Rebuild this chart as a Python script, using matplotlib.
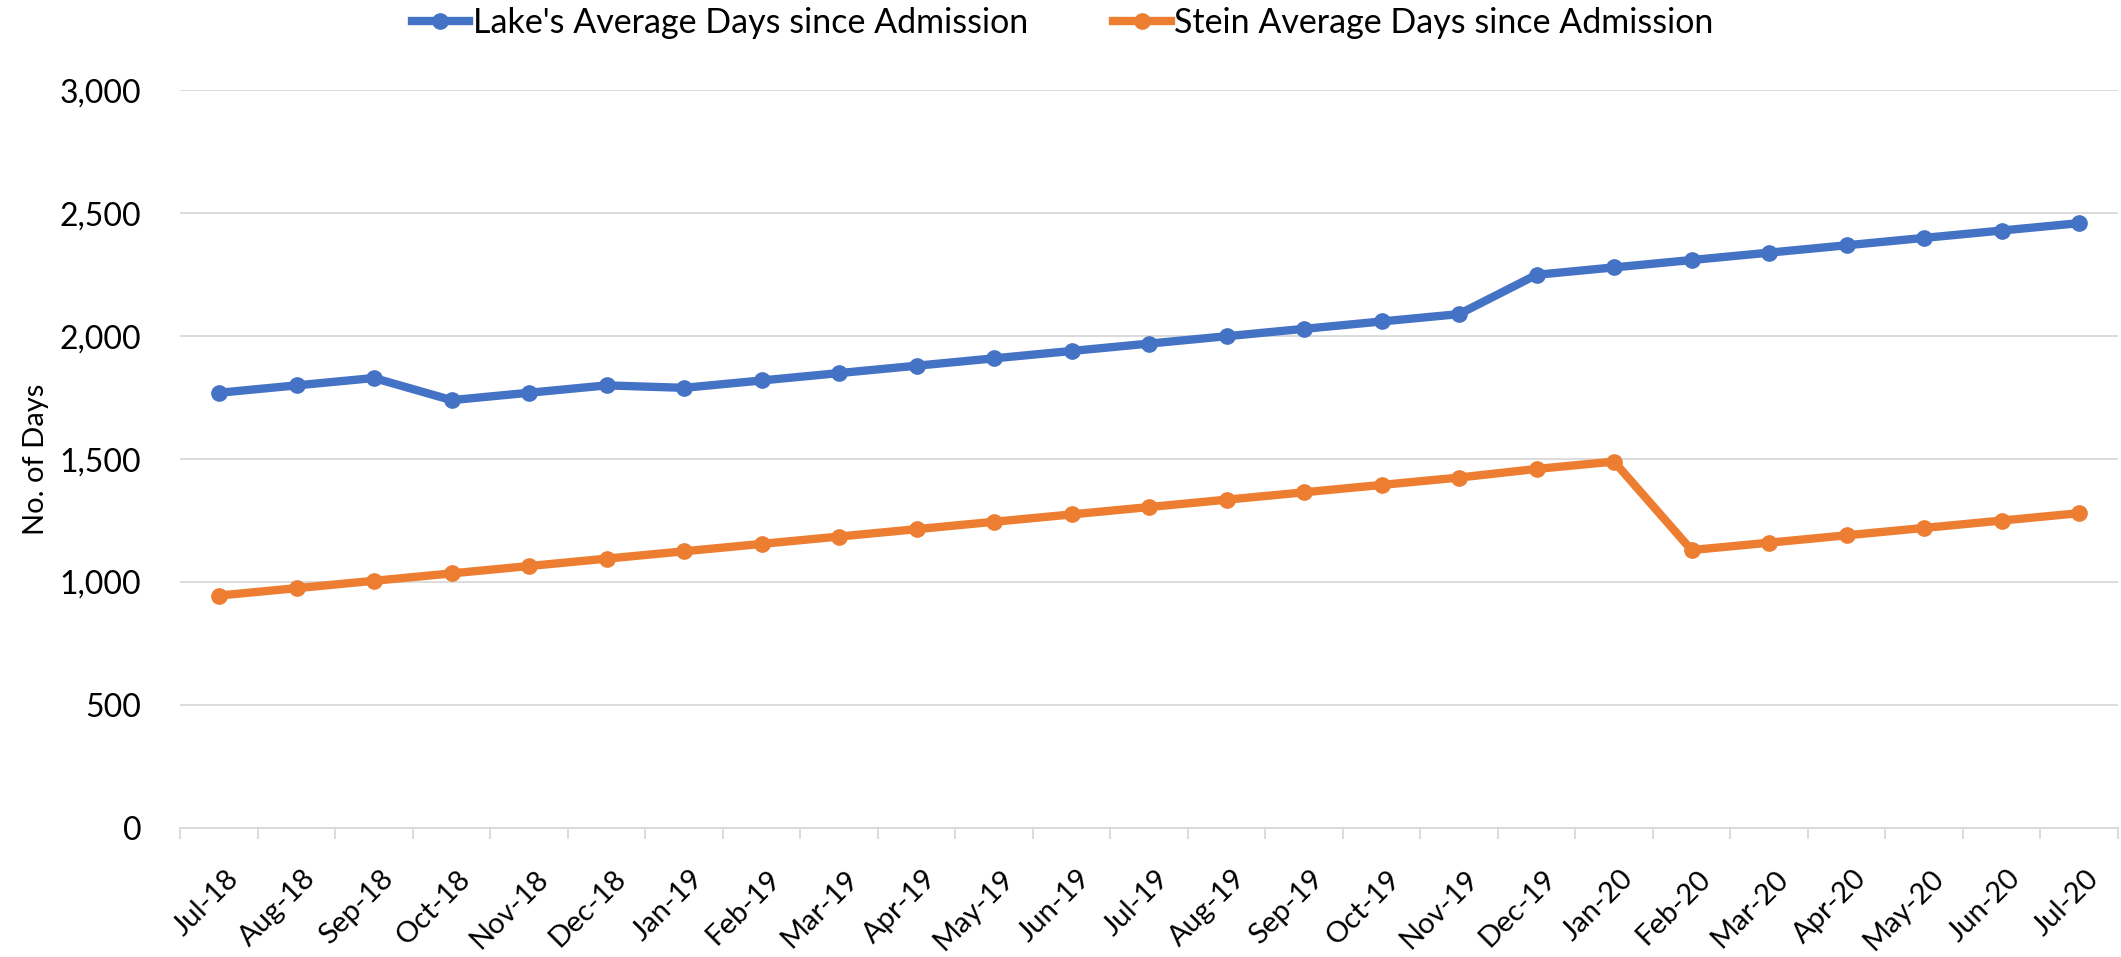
import matplotlib
matplotlib.use('Agg')
import matplotlib.pyplot as plt
from matplotlib.ticker import FuncFormatter, FixedLocator
from matplotlib.transforms import ScaledTranslation

# ─── Data ─────────────────────────────────────────────────────────────────────

months = ['Jul-18', 'Aug-18', 'Sep-18', 'Oct-18', 'Nov-18', 'Dec-18',
          'Jan-19', 'Feb-19', 'Mar-19', 'Apr-19', 'May-19', 'Jun-19',
          'Jul-19', 'Aug-19', 'Sep-19', 'Oct-19', 'Nov-19', 'Dec-19',
          'Jan-20', 'Feb-20', 'Mar-20', 'Apr-20', 'May-20', 'Jun-20',
          'Jul-20']

lake_days = [1770, 1800, 1830, 1740, 1770, 1800, 1790, 1820, 1850, 1880,
             1910, 1940, 1970, 2000, 2030, 2060, 2090, 2250, 2280, 2310,
             2340, 2370, 2400, 2430, 2460]

stein_days = [945, 975, 1005, 1035, 1065, 1095, 1125, 1155, 1185, 1215,
              1245, 1275, 1305, 1335, 1365, 1395, 1425, 1460, 1490, 1130,
              1160, 1190, 1220, 1250, 1280]

y_ticks = [0, 500, 1000, 1500, 2000, 2500, 3000]

BLUE = '#4472C4'
ORANGE = '#ED7D31'
GRID = '#D9D9D9'

plt.rcParams['font.family'] = ['Lato', 'DejaVu Sans']

fig = plt.figure(figsize=(21.21, 9.57), dpi=100, facecolor='white')
ax = fig.add_axes([0.085, 0.135, 0.9135, 0.7705])

x = list(range(len(months)))
l1, = ax.plot(x, lake_days, '-o', color=BLUE, linewidth=6, markersize=11,
              label="Lake's Average Days since Admission")
l2, = ax.plot(x, stein_days, '-o', color=ORANGE, linewidth=6, markersize=11,
              label='Stein Average Days since Admission')

ax.set_xlim(-0.5, len(months) - 0.5)
ax.set_ylim(0, 3000)
ax.set_yticks(y_ticks)
ax.yaxis.set_major_formatter(FuncFormatter(lambda v, p: f'{int(v):,}'))
ax.grid(axis='y', color=GRID, linewidth=1.3)
ax.set_axisbelow(True)

for sp in ['top', 'right', 'left']:
    ax.spines[sp].set_visible(False)
ax.spines['bottom'].set_color(GRID)
ax.spines['bottom'].set_linewidth(1.3)

ax.tick_params(axis='y', length=0, pad=28, labelsize=23)
ax.set_xticks(x)
ax.set_xticklabels(months)
ax.tick_params(axis='x', length=0, pad=27, labelsize=21)
ax.xaxis.set_minor_locator(FixedLocator([i - 0.5 for i in range(len(months) + 1)]))
ax.tick_params(axis='x', which='minor', length=8, width=1.3, color=GRID)

# rotated labels: top-right corner sits just under the category centre
off = ScaledTranslation(0.06, 0, fig.dpi_scale_trans)
for lab in ax.get_xticklabels():
    lab.set_rotation(45)
    lab.set_ha('right')
    lab.set_va('top')
    lab.set_rotation_mode('anchor')
    lab.set_transform(lab.get_transform() + off)

ax.set_ylabel('No. of Days', fontsize=21)
ax.yaxis.set_label_coords(-0.0676, 0.5)

fig.legend(handles=[l1, l2], loc='center', bbox_to_anchor=(0.501, 0.976),
           ncol=2, frameon=False, fontsize=24.5, handlelength=1.7,
           handletextpad=0.1, columnspacing=2.5)

fig.savefig('out.png', dpi=100, facecolor='white')
